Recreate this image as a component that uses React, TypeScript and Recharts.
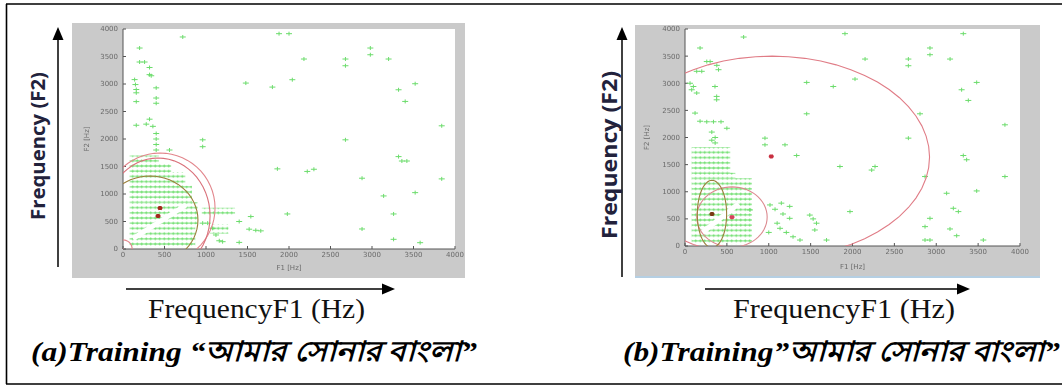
import React from "react";
import { ScatterChart, Scatter, XAxis, YAxis, ReferenceArea } from "recharts";

const ticks = [0, 500, 1000, 1500, 2000, 2500, 3000, 3500, 4000];

// (a) isolated frames, F1 / F2 in Hz
const sparseA = [
  [720, 3855], [200, 3654], [200, 3400], [260, 3400], [320, 3300], [320, 3170], [340, 3150],
  [140, 3080], [150, 2990], [160, 2900], [160, 2840], [400, 2930], [400, 2745], [400, 2650],
  [160, 2680], [320, 2360], [160, 2250], [280, 2270], [360, 2230], [400, 2100], [400, 2000],
  [400, 1900], [400, 1800], [960, 1985], [960, 1860], [560, 1800], [1880, 3915], [2000, 3915],
  [2980, 3654], [2980, 3532], [2180, 3454], [2680, 3454], [2680, 3332], [3200, 3454], [1480, 3017],
  [2040, 3078], [1800, 2944], [3320, 2895], [3520, 3005], [3400, 2683], [3840, 2240], [2680, 1985],
  [1860, 1457], [2220, 1410], [2300, 1450], [2880, 1287], [3320, 1680], [3360, 1600], [3420, 1600],
  [3840, 1275], [3140, 965], [3520, 1025], [1980, 637], [3260, 637], [2880, 364], [3260, 176],
  [3580, 115], [1540, 590], [1400, 500], [1520, 360], [1600, 340], [1660, 330], [1400, 120],
  [1200, 133], [1120, 255], [1080, 376], [1020, 470], [960, 470], [1160, 150],
].map(([f1, f2]) => ({ f1, f2 }));

// (a) dense block of frames: [f1 from, f1 to, f2 from, f2 to]
const blocksA = [
  [80, 430, 1550, 1700], [80, 580, 1400, 1550], [80, 750, 1150, 1400], [80, 830, 850, 1150],
  [80, 900, 450, 850], [80, 870, 30, 450], [950, 1350, 600, 750], [1050, 1270, 280, 450],
];
const gapA = [{ f1: 120, f2: 190 }, { f1: 760, f2: 800 }];

// (a) mixture components: mean and spread (Hz)
const ringsA = [
  { f1: 446, f2: 745, r1: 663, r2: 1000, color: "#e2868c" },
  { f1: 422, f2: 600, r1: 627, r2: 1054, color: "#d9707a" },
  { f1: 325, f2: 527, r1: 578, r2: 800, color: "#9b7f3c" },
  { f1: 0, f2: 0, r1: 110, r2: 165, color: "#e2868c" },
];
const meansA = [
  { f1: 446, f2: 745, color: "#a3281c" },
  { f1: 422, f2: 600, color: "#a3281c" },
];

// (b) isolated frames
const sparseB = [
  [180, 3650], [260, 3400], [300, 3400], [380, 3330], [400, 3250], [140, 3220], [200, 3220],
  [60, 3000], [100, 2940], [80, 2880], [140, 2820], [358, 2940], [378, 2757], [378, 2695],
  [120, 2450], [180, 2300], [260, 2290], [340, 2290], [430, 2290], [500, 2170], [320, 2100],
  [360, 2000], [320, 1950], [360, 1900], [700, 3852], [1910, 3914], [2150, 3446], [2667, 3446],
  [2667, 3323], [2925, 3650], [2925, 3526], [3165, 3446], [3323, 3914], [1453, 3015], [1770, 2940],
  [2030, 3077], [3483, 3015], [3303, 2880], [3383, 2683], [1453, 2437], [2806, 2437], [3820, 2234],
  [955, 1988], [955, 1865], [1194, 1865], [1333, 1668], [1850, 1465], [2229, 1400], [2269, 1465],
  [2667, 1988], [2866, 1280], [3323, 1668], [3363, 1590], [3820, 1280], [3124, 972], [3483, 1015],
  [3204, 695], [3264, 634], [1970, 634], [2925, 510], [2866, 357], [3164, 314], [3244, 190],
  [2866, 110], [2925, 110], [3562, 110], [1690, 110], [1373, 110], [1015, 757], [1075, 677],
  [1150, 790], [1250, 730], [1170, 590], [1250, 510], [1490, 570], [1530, 500], [1570, 420],
  [1550, 295], [1135, 326], [1210, 250], [1290, 170], [776, 665], [1100, 420], [1000, 250],
].map(([f1, f2]) => ({ f1, f2 }));

const blocksB = [
  [80, 540, 1350, 1820], [80, 600, 1250, 1350], [80, 800, 30, 1250],
];
const gapB = [{ f1: 200, f2: 240 }, { f1: 640, f2: 780 }];

const ringsB = [
  { f1: 1040, f2: 1640, r1: 1880, r2: 1860, color: "#e07c86" },
  { f1: 561, f2: 534, r1: 420, r2: 555, color: "#dc8a90" },
  { f1: 322, f2: 590, r1: 175, r2: 620, color: "#9b7f3c" },
];
const meansB = [
  { f1: 1030, f2: 1650, color: "#c83040" },
  { f1: 561, f2: 532, color: "#d8405a" },
  { f1: 322, f2: 590, color: "#7a3a14" },
];

// contour outline of each component, traced from its mean and spread
const angles = Array.from({ length: 61 }, (_, i) => (i * 6 * Math.PI) / 180);
const ring = (e: any) =>
  angles.map((t) => ({ f1: e.f1 + e.r1 * Math.cos(t), f2: e.f2 + e.r2 * Math.sin(t) }));

const Plus = (p: any) => (
  <path d={`M${p.cx - 3},${p.cy}h6M${p.cx},${p.cy - 2}v4`} stroke="#6cdc6c" strokeWidth={1} fill="none" />
);
const Mean = (p: any) => (
  <path
    d={`M${p.cx - 2.5},${p.cy}h5M${p.cx},${p.cy - 2}v4M${p.cx - 1.8},${p.cy - 1.5}l3.6,3M${p.cx - 1.8},${p.cy + 1.5}l3.6,-3`}
    stroke={p.payload.color}
    strokeWidth={1.6}
    fill="none"
  />
);
const Nothing = () => <g />;

const tickStyle = { fontSize: 7, fill: "#6a6a6a", fontFamily: "DejaVu Sans" };

function Panel(props: any) {
  const { box, margin, yWidth, yLabelOffset, xLabelOffset, sparse, blocks, gap, rings, means } = props;
  return (
    <div
      style={{
        position: "absolute", left: box.x, top: box.y, width: box.w, height: box.h,
        background: "#cacaca", filter: "blur(0.3px)",
      }}
    >
      <ScatterChart width={box.w} height={box.h} margin={margin}>
        <XAxis
          type="number" dataKey="f1" domain={[0, 4000]} ticks={ticks} allowDataOverflow
          height={24} tickSize={-3} tickMargin={6} tick={tickStyle}
          axisLine={{ stroke: "#555" }} tickLine={{ stroke: "#555" }}
          label={{ value: "F1 [Hz]", position: "insideBottom", offset: xLabelOffset, ...tickStyle }}
        />
        <XAxis
          xAxisId="top" orientation="top" type="number" domain={[0, 4000]} ticks={ticks}
          height={0} tickSize={-3} tick={false} axisLine={{ stroke: "#555" }} tickLine={{ stroke: "#555" }}
        />
        <YAxis
          type="number" dataKey="f2" domain={[0, 4000]} ticks={ticks} allowDataOverflow
          width={yWidth} tickSize={-3} tickMargin={8} tick={tickStyle}
          axisLine={{ stroke: "#555" }} tickLine={{ stroke: "#555" }}
          label={{
            value: "F2 [Hz]", angle: -90, position: "insideLeft", offset: yLabelOffset,
            style: { textAnchor: "middle" }, ...tickStyle,
          }}
        />
        <YAxis
          yAxisId="right" orientation="right" type="number" domain={[0, 4000]} ticks={ticks}
          width={0} tickSize={-3} tick={false} axisLine={{ stroke: "#555" }} tickLine={{ stroke: "#555" }}
        />
        <ReferenceArea x1={0} x2={4000} y1={0} y2={4000} fill="#ffffff" fillOpacity={1} stroke="none" />
        {blocks.map((b: number[], i: number) => (
          <ReferenceArea
            key={"b" + i} x1={b[0]} x2={b[1]} y1={b[2]} y2={b[3]}
            fill="url(#plusGrid)" fillOpacity={1} stroke="none"
          />
        ))}
        <Scatter data={gap} line={{ stroke: "#ffffff", strokeWidth: 5 }} shape={Nothing} isAnimationActive={false} />
        <Scatter data={sparse} shape={Plus} isAnimationActive={false} />
        {rings.map((e: any, i: number) => (
          <Scatter
            key={"r" + i} data={ring(e)} line={{ stroke: e.color, strokeWidth: 1.1 }}
            shape={Nothing} isAnimationActive={false}
          />
        ))}
        <Scatter data={means} shape={Mean} isAnimationActive={false} />
      </ScatterChart>
    </div>
  );
}

const serif = "Liberation Serif";

export default function App() {
  return (
    <div style={{ position: "absolute", left: 0, top: 0, width: 1062, height: 389, background: "#fff", overflow: "hidden" }}>
      <svg width={0} height={0} style={{ position: "absolute" }}>
        <defs>
          <pattern id="plusGrid" width={4.5} height={5.2} patternUnits="userSpaceOnUse">
            <path d="M0.2,2.6h4.1M2.25,1.2v2.8" stroke="#72df72" strokeWidth={1.15} fill="none" />
          </pattern>
        </defs>
      </svg>

      <svg width={1062} height={389} style={{ position: "absolute", left: 0, top: 0 }}>
        <path d="M6.5,4V384M6,4H1062M6,384H1062" stroke="#000" strokeWidth={1.6} fill="none" />

        <line x1={58} y1={267} x2={58} y2={38} stroke="#000" strokeWidth={1.5} />
        <path d="M52.5,40L58,27L63.5,40Z" fill="#000" />
        <line x1={622} y1={277} x2={622} y2={38} stroke="#000" strokeWidth={1.5} />
        <path d="M616.5,40L622,27L627.5,40Z" fill="#000" />

        <line x1={126} y1={289} x2={384} y2={289} stroke="#000" strokeWidth={1.5} />
        <path d="M382,283.5L395,289L382,294.5Z" fill="#000" />
        <line x1={705} y1={289} x2={959} y2={289} stroke="#000" strokeWidth={1.5} />
        <path d="M957,283.5L970,289L957,294.5Z" fill="#000" />

        <text
          transform="translate(37,146) rotate(-90)" textAnchor="middle" dominantBaseline="central"
          fontFamily="Open Sans" fontWeight={700} fontSize={20} fill="#22223c"
          textLength={148} lengthAdjust="spacingAndGlyphs"
        >
          Frequency (F2)
        </text>
        <text
          transform="translate(609,155) rotate(-90)" textAnchor="middle" dominantBaseline="central"
          fontFamily="Open Sans" fontWeight={700} fontSize={21} fill="#22223c"
          textLength={168} lengthAdjust="spacingAndGlyphs"
        >
          Frequency (F2)
        </text>

        <text x={148} y={318} fontFamily={serif} fontSize={28} fill="#111" textLength={217} lengthAdjust="spacingAndGlyphs">
          FrequencyF1 (Hz)
        </text>
        <text x={733} y={318} fontFamily={serif} fontSize={28} fill="#111" textLength={222} lengthAdjust="spacingAndGlyphs">
          FrequencyF1 (Hz)
        </text>

        <text x={31} y={361} fontFamily={serif} fontStyle="italic" fontWeight={700} fontSize={28} fill="#000" textLength={446} lengthAdjust="spacingAndGlyphs">
          (a)Training “আমার সোনার বাংলা”
        </text>
        <text x={623} y={361} fontFamily={serif} fontStyle="italic" fontWeight={700} fontSize={28} fill="#000" textLength={437} lengthAdjust="spacingAndGlyphs">
          (b)Training”আমার সোনার বাংলা”
        </text>
      </svg>

      <Panel
        box={{ x: 72, y: 23, w: 393, h: 255 }}
        margin={{ top: 6, right: 10, bottom: 5, left: 0 }}
        yWidth={51} yLabelOffset={15} xLabelOffset={3.5}
        sparse={sparseA} blocks={blocksA} gap={gapA} rings={ringsA} means={meansA}
      />
      <Panel
        box={{ x: 635, y: 25, w: 405, h: 252 }}
        margin={{ top: 4, right: 20, bottom: 7, left: 0 }}
        yWidth={50} yLabelOffset={12} xLabelOffset={1.5}
        sparse={sparseB} blocks={blocksB} gap={gapB} rings={ringsB} means={meansB}
      />
      <div style={{ position: "absolute", left: 635, top: 276, width: 405, height: 2, background: "#b5cfe3" }} />
    </div>
  );
}
